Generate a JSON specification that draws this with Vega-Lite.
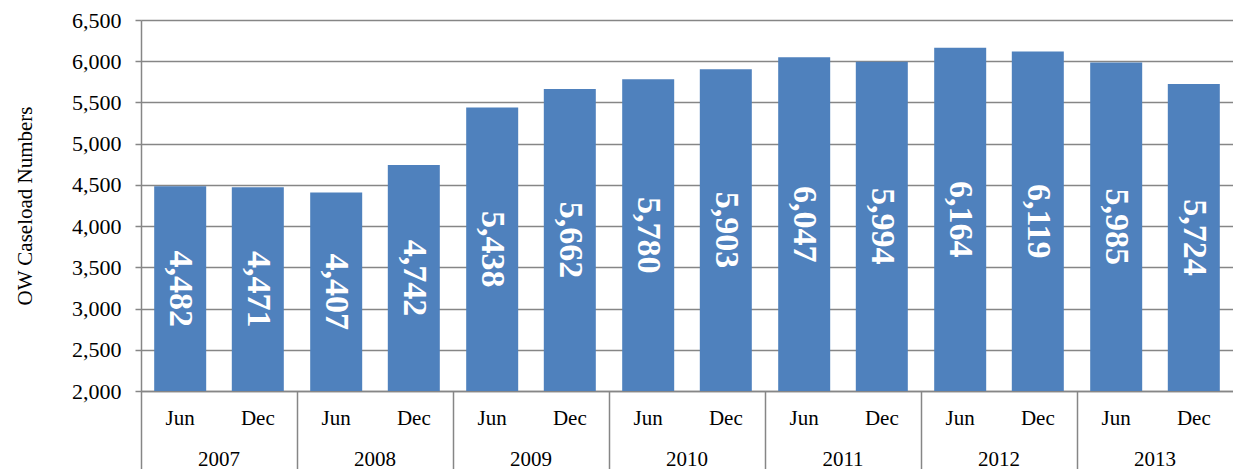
{
  "$schema": "https://vega.github.io/schema/vega-lite/v6.json",
  "autosize": "none",
  "width": 1092,
  "height": 371,
  "padding": {"left": 141, "top": 20, "right": 0, "bottom": 78},
  "background": "white",
  "config": {"view": {"stroke": null}, "font": "Liberation Serif"},
  "data": {"values": [
    {"year": "2007", "month": "Jun", "value": 4482},
    {"year": "2007", "month": "Dec", "value": 4471},
    {"year": "2008", "month": "Jun", "value": 4407},
    {"year": "2008", "month": "Dec", "value": 4742},
    {"year": "2009", "month": "Jun", "value": 5438},
    {"year": "2009", "month": "Dec", "value": 5662},
    {"year": "2010", "month": "Jun", "value": 5780},
    {"year": "2010", "month": "Dec", "value": 5903},
    {"year": "2011", "month": "Jun", "value": 6047},
    {"year": "2011", "month": "Dec", "value": 5994},
    {"year": "2012", "month": "Jun", "value": 6164},
    {"year": "2012", "month": "Dec", "value": 6119},
    {"year": "2013", "month": "Jun", "value": 5985},
    {"year": "2013", "month": "Dec", "value": 5724}
  ]},
  "encoding": {
    "x": {
      "field": "year", "type": "nominal",
      "scale": {"paddingInner": 0, "paddingOuter": 0},
      "axis": {
        "title": null, "labelAngle": 0, "bandPosition": 0,
        "tickSize": 80, "tickColor": "#868686", "tickWidth": 1.5,
        "domainColor": "#868686", "domainWidth": 1.5,
        "labelPadding": -23, "labelFontSize": 21, "labelColor": "#000000",
        "labelFont": "Liberation Serif"
      }
    },
    "xOffset": {
      "field": "month", "type": "nominal", "sort": ["Jun", "Dec"],
      "scale": {"paddingInner": 0.33, "paddingOuter": 0.17}
    }
  },
  "layer": [
    {
      "mark": {"type": "bar", "color": "#4F81BD", "clip": true},
      "encoding": {
        "y": {
          "field": "value", "type": "quantitative",
          "scale": {"domain": [2000, 6500], "nice": false, "zero": false},
          "axis": {
            "title": "OW Caseload Numbers", "titleFontSize": 21, "titleFontWeight": "normal",
            "titleFont": "Liberation Serif", "titlePadding": 36, "titleColor": "#000000",
            "values": [2000, 2500, 3000, 3500, 4000, 4500, 5000, 5500, 6000, 6500],
            "format": ",.0f", "labelFontSize": 22, "labelColor": "#000000", "labelFont": "Liberation Serif",
            "labelPadding": 14,
            "gridColor": "#868686", "gridWidth": 1.5, "gridOpacity": 1,
            "domainColor": "#868686", "domainWidth": 1.5,
            "tickColor": "#868686", "tickSize": 6, "tickWidth": 1.5
          }
        }
      }
    },
    {
      "mark": {"type": "text", "angle": 90, "color": "white", "fontWeight": "bold", "fontSize": 34, "font": "Liberation Serif", "align": "center", "baseline": "middle"},
      "encoding": {
        "y": {
          "field": "value", "type": "quantitative",
          "scale": {"domain": [2000, 11000], "nice": false, "zero": false},
          "axis": null
        },
        "text": {"field": "value", "type": "quantitative", "format": ",.0f"}
      }
    },
    {
      "mark": {"type": "text", "fontSize": 21, "font": "Liberation Serif", "color": "#000000", "baseline": "middle", "dy": 28},
      "encoding": {
        "y": {"datum": 2000, "type": "quantitative", "scale": {"domain": [2000, 6500], "nice": false, "zero": false}, "axis": null},
        "text": {"field": "month", "type": "nominal"}
      }
    }
  ],
  "resolve": {"scale": {"y": "independent"}}
}
